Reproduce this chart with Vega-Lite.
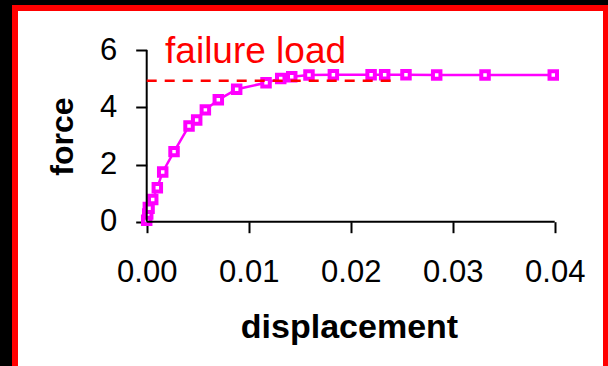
{
  "$schema": "https://vega.github.io/schema/vega-lite/v6.json",
  "width": 591,
  "height": 361,
  "autosize": {"type": "none"},
  "padding": {"left": 15, "top": 8, "right": 2, "bottom": -3},
  "background": "black",
  "config": {
    "view": {"fill": "white", "stroke": "red", "strokeWidth": 6},
    "font": "Liberation Sans"
  },
  "data": {
    "values": [
      {"displacement": 0.0, "force": 0.05},
      {"displacement": 0.0001, "force": 0.27},
      {"displacement": 0.00016, "force": 0.5},
      {"displacement": 0.00023, "force": 0.47},
      {"displacement": 0.00059, "force": 0.78},
      {"displacement": 0.00104, "force": 1.19},
      {"displacement": 0.00157, "force": 1.74},
      {"displacement": 0.00268, "force": 2.45},
      {"displacement": 0.00415, "force": 3.35},
      {"displacement": 0.0049, "force": 3.56},
      {"displacement": 0.00575, "force": 3.91},
      {"displacement": 0.00702, "force": 4.26},
      {"displacement": 0.00882, "force": 4.63},
      {"displacement": 0.0117, "force": 4.86},
      {"displacement": 0.01314, "force": 5.01},
      {"displacement": 0.01422, "force": 5.07},
      {"displacement": 0.01591, "force": 5.13},
      {"displacement": 0.0183, "force": 5.14},
      {"displacement": 0.022, "force": 5.14},
      {"displacement": 0.02333, "force": 5.14},
      {"displacement": 0.02542, "force": 5.14},
      {"displacement": 0.02843, "force": 5.13},
      {"displacement": 0.03317, "force": 5.13},
      {"displacement": 0.03986, "force": 5.13}
    ]
  },
  "layer": [
    {
      "mark": {"type": "line", "color": "#FF00FF", "strokeWidth": 2.5, "point": {"shape": "square", "size": 56, "filled": true, "fill": "white", "stroke": "#FF00FF", "strokeWidth": 4}},
      "encoding": {
        "x": {
          "field": "displacement", "type": "quantitative",
          "scale": {"domain": [-0.012912, 0.045029], "nice": false, "zero": false},
          "axis": {
            "orient": "bottom", "offset": -147.3, "values": [0, 0.01, 0.02, 0.03, 0.04], "format": ".2f",
            "domain": false, "grid": false, "tickSize": 11, "tickWidth": 2, "tickColor": "black",
            "labelFont": "Liberation Sans", "labelFontSize": 31, "labelColor": "black", "labelPadding": 25,
            "labelFlush": false, "labelOverlap": false,
            "title": "displacement", "titleFont": "Liberation Sans", "titleFontSize": 34, "titleFontWeight": "bold",
            "titleColor": "black", "titleX": 334, "titleY": 116, "titleBaseline": "alphabetic", "titleAlign": "center"
          }
        },
        "y": {
          "field": "force", "type": "quantitative",
          "scale": {"domain": [-5.15, 7.472], "nice": false, "zero": false},
          "axis": {
            "orient": "left", "offset": -131.7, "values": [0, 2, 4, 6],
            "domain": false, "grid": false, "tickSize": 11, "tickWidth": 2, "tickColor": "black",
            "labelFont": "Liberation Sans", "labelFontSize": 31, "labelColor": "black", "labelPadding": 19,
            "labelFlush": false, "labelOverlap": false,
            "title": "force", "titleFont": "Liberation Sans", "titleFontSize": 32, "titleFontWeight": "bold",
            "titleColor": "black", "titleAngle": -90, "titleX": -74.7, "titleY": 128, "titleBaseline": "alphabetic", "titleAlign": "center"
          }
        }
      }
    },
    {
      "data": {"values": [{}]},
      "mark": {"type": "rule", "color": "black", "strokeWidth": 2},
      "encoding": {"x": {"datum": 0}, "x2": {"datum": 0.04}, "y": {"datum": 0}}
    },
    {
      "data": {"values": [{}]},
      "mark": {"type": "rule", "color": "black", "strokeWidth": 2},
      "encoding": {"x": {"datum": 0}, "y": {"datum": 0}, "y2": {"datum": 6}}
    },
    {
      "data": {"values": [{}]},
      "mark": {"type": "rule", "color": "#FF0000", "strokeWidth": 2.5, "strokeDash": [10, 8]},
      "encoding": {"x": {"datum": 0}, "x2": {"datum": 0.024}, "y": {"datum": 4.93}}
    },
    {
      "data": {"values": [{"label": "failure load"}]},
      "mark": {"type": "text", "color": "#FF0000", "font": "Liberation Sans", "fontSize": 37, "align": "left", "baseline": "alphabetic"},
      "encoding": {"x": {"datum": 0.0018}, "y": {"datum": 5.55}, "text": {"field": "label"}}
    }
  ]
}
